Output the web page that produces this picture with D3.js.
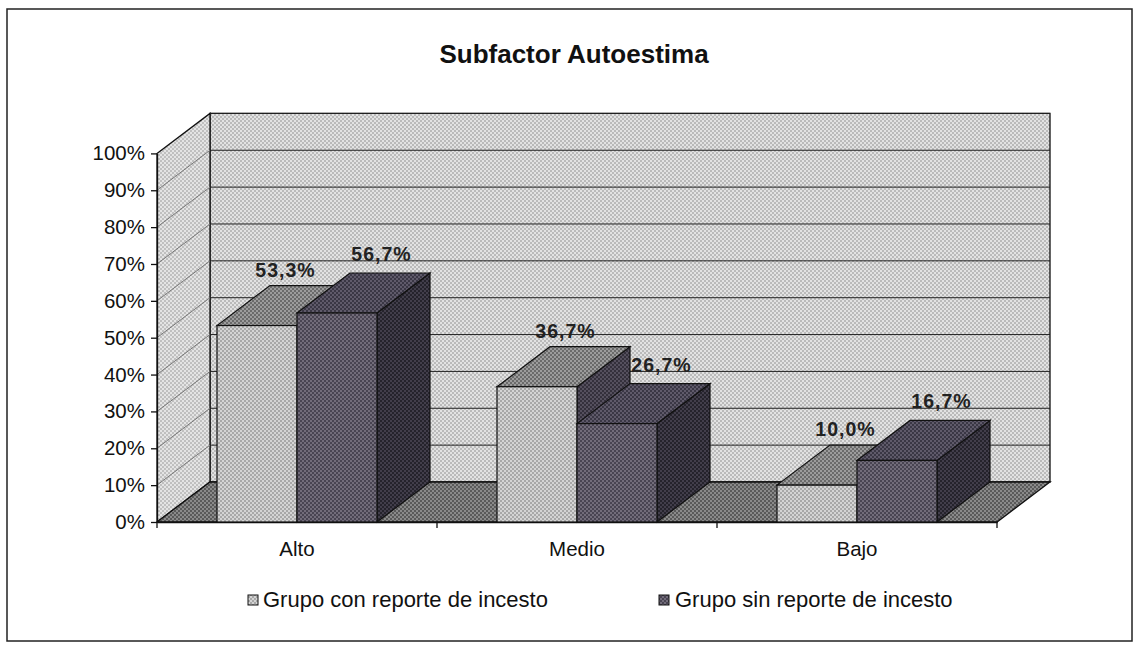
<!DOCTYPE html>
<html><head><meta charset="utf-8">
<script src="https://cdn.jsdelivr.net/npm/d3@7"></script>
<style>body{margin:0;background:#fff}</style>
</head><body>
<svg id="chart" width="1135" height="652"></svg>
<script>
// ---- data ----
const chartTitle = "Subfactor Autoestima";
const categories = ["Alto", "Medio", "Bajo"];
const seriesNames = ["Grupo con reporte de incesto", "Grupo sin reporte de incesto"];
const conReporte = [53.3, 36.7, 10.0];
const sinReporte = [56.7, 26.7, 16.7];
const yTickValues = [0, 10, 20, 30, 40, 50, 60, 70, 80, 90, 100];

const seriesValues = [conReporte, sinReporte];
const font = "Arial, 'Liberation Sans', sans-serif";
const svg = d3.select("#chart");
const locale = d3.formatLocale({decimal: ",", thousands: ".", grouping: [3], currency: ["", ""]});
const fmt = v => locale.format(".1f")(v).replace(".", ",");

// ---- patterns (halftone look) ----
const defs = svg.append("defs");
function pat(id, base, dot) {
  const p = defs.append("pattern").attr("id", id).attr("patternUnits", "userSpaceOnUse")
    .attr("width", 4).attr("height", 4);
  p.append("rect").attr("width", 4).attr("height", 4).attr("fill", base);
  p.append("circle").attr("cx", 1).attr("cy", 1).attr("r", 0.95).attr("fill", dot);
  p.append("circle").attr("cx", 3).attr("cy", 3).attr("r", 0.95).attr("fill", dot);
  return `url(#${id})`;
}
const fBack = pat("pBack", "#e2e2e2", "#a9a9a9");
const fSide = pat("pSide", "#e4e4e4", "#b0b0b0");
const fFloor = pat("pFloor", "#8a8a8a", "#444444");
const faces = [
  {front: pat("s1f", "#d4d4d4", "#959595"), top: pat("s1t", "#9c9c9c", "#555555"), side: pat("s1s", "#55505e", "#25222c")},
  {front: pat("s2f", "#726c7a", "#363240"), top: pat("s2t", "#5f5a6a", "#2a2734"), side: pat("s2s", "#423e4b", "#18161e")}
];

// ---- geometry via scales ----
const left = 157, right = 997, base = 522, top100 = 153.4;
const dx = 53, dy = -40;
const y = d3.scaleLinear().domain([0, 100]).range([base, top100]);
const x0 = d3.scaleBand().domain(categories).range([left, right]).padding(0);
const x1 = d3.scaleBand().domain([0, 1]).range([0, x0.bandwidth()]).paddingInner(0).paddingOuter(0.75);

// frame
svg.append("rect").attr("x", 7).attr("y", 9).attr("width", 1125).attr("height", 632)
  .attr("fill", "#fff").attr("stroke", "#222").attr("stroke-width", 1.5);

// title
svg.append("text").attr("x", 574).attr("y", 63).attr("text-anchor", "middle")
  .attr("font-family", font).attr("font-size", 26).attr("font-weight", "bold").attr("fill", "#111")
  .text(chartTitle);

const poly = pts => pts.map(p => p.join(",")).join(" ");

// walls
svg.append("polygon").attr("points", poly([[left + dx, y(100) + dy], [right + dx, y(100) + dy], [right + dx, base + dy], [left + dx, base + dy]]))
  .attr("fill", fBack).attr("stroke", "#111").attr("stroke-width", 1.3);
svg.append("polygon").attr("points", poly([[left, y(100)], [left + dx, y(100) + dy], [left + dx, base + dy], [left, base]]))
  .attr("fill", fSide).attr("stroke", "#111").attr("stroke-width", 1.3);
svg.append("polygon").attr("points", poly([[left, base], [left + dx, base + dy], [right + dx, base + dy], [right, base]]))
  .attr("fill", fFloor).attr("stroke", "#111").attr("stroke-width", 1.3);

// gridlines
const grid = svg.append("g");
grid.selectAll("line.back").data(yTickValues.filter(t => t > 0)).join("line").attr("class", "back")
  .attr("x1", left + dx).attr("x2", right + dx)
  .attr("y1", d => y(d) + dy).attr("y2", d => y(d) + dy)
  .attr("stroke", "#222").attr("stroke-width", 1);
grid.selectAll("line.side").data(yTickValues.filter(t => t > 0 && t < 100)).join("line").attr("class", "side")
  .attr("x1", left).attr("x2", left + dx)
  .attr("y1", d => y(d)).attr("y2", d => y(d) + dy)
  .attr("stroke", "#777").attr("stroke-width", 1);

// y axis
const yAxis = svg.append("g").attr("transform", `translate(${left},0)`)
  .call(d3.axisLeft(y).tickValues(yTickValues).tickFormat(d => d + "%").tickSize(6).tickSizeOuter(0).tickPadding(6));
yAxis.selectAll("text").attr("font-family", font).attr("font-size", 20.5).attr("fill", "#111");
yAxis.selectAll("line, path").attr("stroke", "#111").attr("stroke-width", 1.3);

// x axis
const xAxis = svg.append("g").attr("transform", `translate(0,${base})`)
  .call(d3.axisBottom(x0).tickSize(0).tickSizeOuter(0).tickPadding(19));
xAxis.selectAll("text").attr("font-family", font).attr("font-size", 20.5).attr("fill", "#111");
xAxis.select("path").attr("stroke", "#111").attr("stroke-width", 1.3);
const bounds = categories.map(c => x0(c)).concat([x0(categories[categories.length - 1]) + x0.bandwidth()]);
xAxis.selectAll("line.bt").data(bounds).join("line").attr("class", "bt")
  .attr("x1", d => d).attr("x2", d => d).attr("y1", 0).attr("y2", 6)
  .attr("stroke", "#111").attr("stroke-width", 1.3);

// bars
const bars = svg.append("g");
categories.forEach((c, i) => {
  seriesValues.forEach((vals, s) => {
    const v = vals[i];
    const xf = x0(c) + x1(s), w = x1.bandwidth(), yt = y(v);
    const g = bars.append("g");
    g.append("polygon").attr("points", poly([[xf + w, yt], [xf + w + dx, yt + dy], [xf + w + dx, base + dy], [xf + w, base]]))
      .attr("fill", faces[s].side).attr("stroke", "#111").attr("stroke-width", 1.2);
    g.append("polygon").attr("points", poly([[xf, yt], [xf + w, yt], [xf + w + dx, yt + dy], [xf + dx, yt + dy]]))
      .attr("fill", faces[s].top).attr("stroke", "#111").attr("stroke-width", 1.2);
    g.append("rect").attr("x", xf).attr("y", yt).attr("width", w).attr("height", base - yt)
      .attr("fill", faces[s].front).attr("stroke", "#111").attr("stroke-width", 1.2);
  });
});

// data labels
const labOffX = [2, 18], labOffY = [9, 12];
const labels = svg.append("g");
categories.forEach((c, i) => {
  seriesValues.forEach((vals, s) => {
    const v = vals[i];
    const xf = x0(c) + x1(s), w = x1.bandwidth();
    labels.append("text")
      .attr("x", xf + w / 2 + dx / 2 + labOffX[s])
      .attr("y", y(v) + dy - labOffY[s])
      .attr("text-anchor", "middle").attr("font-family", font).attr("font-size", 19.5)
      .attr("font-weight", "bold").attr("letter-spacing", 1).attr("fill", "#222")
      .text(fmt(v) + "%");
  });
});

// legend
const legX = [248, 659], legTextX = [263, 675];
const leg = svg.append("g");
seriesNames.forEach((n, s) => {
  leg.append("rect").attr("x", legX[s]).attr("y", 595).attr("width", 10).attr("height", 10)
    .attr("fill", faces[s].front).attr("stroke", "#111").attr("stroke-width", 1);
  leg.append("text").attr("x", legTextX[s]).attr("y", 607)
    .attr("font-family", font).attr("font-size", 22).attr("fill", "#111").text(n);
});
</script>
</body></html>
